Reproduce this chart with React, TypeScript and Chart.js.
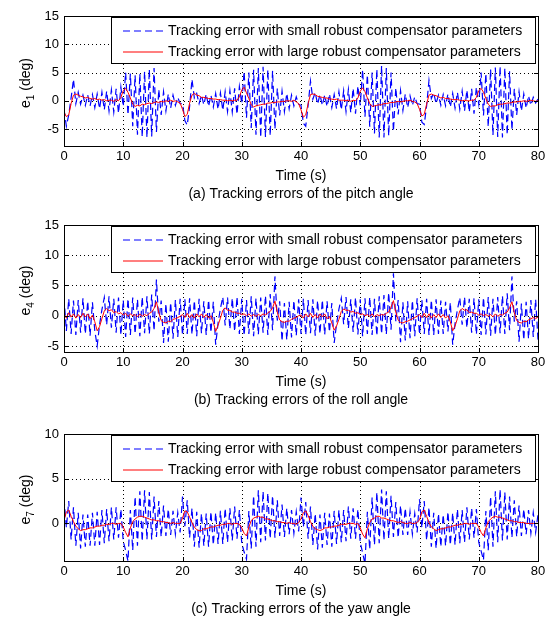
import React, { useEffect, useRef } from "react";
import { Chart, registerables } from "chart.js";

Chart.register(...registerables);

const FONT = '"Liberation Sans", Arial, Helvetica, sans-serif';

// sampling grid of the simulation output (s)
const timeStep = 0.4;
const time: number[] = Array.from({ length: 201 }, (_, i) => Math.round(i * timeStep * 10) / 10);

const xTicks = [0, 10, 20, 30, 40, 50, 60, 70, 80];
const pitchTicks = [-5, 0, 5, 10, 15];
const rollTicks = [-5, 0, 5, 10, 15];
const yawTicks = [0, 5, 10];

const legendLabels = [
  "Tracking error with small robust compensator parameters",
  "Tracking error with large robust compensator parameters",
];
const captions = [
  "(a) Tracking errors of the pitch angle",
  "(b) Tracking errors of the roll angle",
  "(c) Tracking errors of the yaw angle",
];
const xTitle = "Time (s)";

// e1 pitch: small compensator (blue dashed)
const pitchSmall = [
  -1.5, -4.5, -2.5, 0.5, 3.8, -0.5, 1.5, -0.6, 1.0, -0.8, 1.0, -0.9, 1.1, -1.2, 1.2, -1.4, 1.5, -1.6, 1.7, -1.8, 1.9, -2.0, 2.1, -2.2, 2.4,
  -1.0, 5.0, -2.5, 4.8, -4.5, 4.5, -6.0, 4.8, -6.4, 5.2, -6.5, 5.6, -6.3, 5.8, -5.5, 2.0, -2.5, 1.6, -1.8, 1.2, -1.3, 1.0, -0.8, 0.6, -0.5,
  -0.5, -3.5, -4.3, -1.0, 3.8, 0.5, 1.3, -0.5, 1.0, -0.7, 1.2, -1.0, 1.0, -1.1, 1.3, -1.5, 1.4, -1.7, 1.6, -1.9, 1.8, -2.0, 2.2, -2.4, 2.5,
  -0.5, 5.2, -3.0, 5.0, -4.8, 5.5, -6.0, 5.8, -6.5, 6.0, -6.4, 5.5, -6.2, 5.3, -5.0, 2.2, -2.6, 1.7, -1.9, 1.3, -1.4, 1.0, -0.9, 0.7, -0.6,
  -0.8, -4.0, -4.5, -0.8, 3.5, 0.3, 1.5, -0.6, 1.1, -0.8, 1.0, -1.0, 1.2, -1.2, 1.1, -1.4, 1.6, -1.6, 1.8, -1.9, 2.0, -2.1, 2.2, -2.3, 2.6,
  -0.8, 5.5, -2.8, 4.6, -4.6, 5.0, -5.8, 5.6, -6.5, 6.2, -6.5, 5.8, -6.2, 5.0, -5.4, 2.3, -2.4, 1.8, -1.7, 1.2, -1.2, 0.9, -0.8, 0.7, -0.5,
  -0.6, -3.8, -4.2, -0.9, 3.6, 0.4, 1.4, -0.5, 1.0, -0.8, 1.1, -0.9, 1.2, -1.1, 1.3, -1.3, 1.5, -1.5, 1.7, -1.8, 1.9, -2.0, 2.1, -2.3, 2.4,
  -0.6, 5.0, -2.6, 4.8, -4.6, 5.6, -6.1, 5.9, -6.4, 6.1, -6.5, 5.8, -6.0, 5.2, -5.2, 2.1, -2.5, 1.6, -1.8, 1.2, -1.3, 0.9, -0.8, 0.6, -0.4,
  0.3,
];
// e1 pitch: large compensator (red solid)
const pitchLarge = [
  -2.0, -2.8, -2.5, -0.5, 1.0, 1.2, 1.0, 0.8, 0.7, 0.5, 0.6, 0.4, 0.3, 0.4, 0.2, 0.3, 0.1, 0.2, 0.0, 0.1, 0.1, -0.1, 0.2, 0.0, 0.6,
  1.8, 2.2, 1.5, 0.5, -0.6, -1.0, -0.8, -0.9, -0.6, -0.7, -0.5, -0.4, -0.5, -0.3, -0.2, -0.3, -0.1, -0.2, 0.0, -0.1, 0.1, -0.1, 0.0, -0.2, -0.4,
  -1.5, -2.8, -2.4, -0.4, 1.0, 1.3, 1.0, 0.9, 0.6, 0.6, 0.5, 0.4, 0.4, 0.3, 0.3, 0.2, 0.2, 0.1, 0.1, 0.0, 0.1, 0.0, 0.1, 0.1, 0.7,
  1.9, 2.4, 1.4, 0.4, -0.7, -1.1, -0.9, -0.8, -0.7, -0.6, -0.6, -0.4, -0.4, -0.3, -0.3, -0.2, -0.2, -0.1, -0.1, 0.0, 0.0, -0.1, 0.1, -0.2, -0.5,
  -1.6, -2.9, -2.5, -0.5, 1.1, 1.2, 1.1, 0.8, 0.7, 0.6, 0.5, 0.5, 0.3, 0.3, 0.2, 0.3, 0.1, 0.1, 0.1, 0.0, 0.1, -0.1, 0.1, 0.0, 0.5,
  1.7, 2.3, 1.6, 0.5, -0.5, -1.0, -0.9, -0.8, -0.7, -0.7, -0.5, -0.5, -0.4, -0.3, -0.3, -0.2, -0.1, -0.2, -0.1, 0.0, 0.0, 0.1, -0.1, -0.2, -0.5,
  -1.5, -2.7, -2.4, -0.6, 1.0, 1.2, 1.0, 0.9, 0.7, 0.5, 0.6, 0.4, 0.4, 0.3, 0.2, 0.2, 0.2, 0.1, 0.0, 0.1, 0.0, 0.0, 0.1, 0.1, 0.6,
  1.8, 2.2, 1.5, 0.4, -0.6, -1.0, -0.9, -0.9, -0.7, -0.6, -0.6, -0.5, -0.4, -0.4, -0.3, -0.2, -0.2, -0.1, -0.1, 0.0, -0.1, 0.0, 0.1, 0.0, -0.1,
  0.0,
];

// e4 roll: small compensator (blue dashed)
const rollSmall = [
  3.0, -2.5, 2.8, -3.0, 2.5, -3.2, 2.6, -2.8, 2.9, -3.0, 2.4, -3.3, 2.2, -2.5, -5.0, -1.5, 1.0, 3.0, -1.5, 3.2, -2.0, 2.8, -2.8, 3.0, -3.2,
  2.6, -3.5, 2.8, -3.2, 3.0, -3.0, 2.7, -3.4, 3.1, -2.9, 3.2, -3.0, 3.5, -2.5, 6.0, -1.0, 2.5, -4.5, 2.0, -4.3, 2.2, -3.8, 2.6, -3.5, 2.8,
  -3.2, 2.7, -3.0, 2.9, -3.1, 2.5, -3.4, 2.8, -2.9, 2.4, -3.2, 2.6, -2.8, 2.3, -4.8, -1.2, 1.2, 3.1, -1.6, 3.0, -2.2, 2.9, -2.6, 3.1, -3.0,
  2.8, -3.3, 2.6, -3.0, 3.2, -3.4, 2.9, -3.1, 3.0, -2.8, 3.3, -3.2, 3.6, -2.4, 6.5, -0.8, 2.4, -4.2, 2.1, -4.0, 2.3, -3.6, 2.5, -3.3, 2.7,
  -3.0, 2.8, -3.2, 2.6, -2.9, 2.7, -3.3, 2.5, -3.0, 2.6, -3.1, 2.4, -2.7, 2.1, -4.5, -1.4, 1.1, 2.9, -1.4, 3.1, -2.1, 2.7, -2.7, 3.0, -3.1,
  2.7, -3.4, 2.9, -3.0, 3.1, -3.2, 2.8, -3.3, 3.2, -3.0, 3.4, -3.1, 3.8, -2.3, 7.0, -0.9, 2.6, -4.4, 2.2, -4.1, 2.4, -3.7, 2.5, -3.4, 2.9,
  -3.1, 2.6, -3.0, 2.8, -3.2, 2.6, -3.2, 2.7, -3.0, 2.5, -3.0, 2.3, -2.6, 2.2, -4.8, -1.3, 1.0, 3.0, -1.5, 3.1, -2.0, 2.8, -2.8, 2.9, -3.1,
  2.7, -3.2, 3.0, -3.1, 3.1, -3.3, 2.8, -3.2, 3.1, -2.9, 3.3, -3.0, 3.7, -2.4, 6.5, -1.0, 2.4, -4.3, 2.0, -4.0, 2.3, -3.8, 2.6, -3.5, 2.7,
  -4.0,
];
// e4 roll: large compensator (red solid)
const rollLarge = [
  0.3, -0.4, 0.5, -0.2, 0.3, -0.4, 0.2, -0.3, 0.4, -0.2, 0.3, -0.5, 0.1, -1.0, -2.5, -1.8, -0.5, 0.8, 1.2, 0.8, 1.0, 0.5, 0.7, 0.3, 0.5,
  0.1, 0.4, -0.1, 0.3, 0.0, 0.2, -0.2, 0.3, -0.1, 0.2, 0.0, 0.4, 0.6, 1.2, 2.3, 0.5, -0.8, -1.1, -1.2, -0.9, -1.0, -0.6, -0.5, -0.3, -0.1,
  0.2, -0.3, 0.4, -0.3, 0.2, -0.4, 0.3, -0.2, 0.3, -0.3, 0.2, -0.4, 0.0, -1.1, -2.6, -1.6, -0.4, 0.9, 1.3, 0.9, 0.9, 0.6, 0.6, 0.4, 0.4,
  0.2, 0.3, 0.0, 0.3, -0.1, 0.2, -0.1, 0.2, 0.0, 0.3, 0.1, 0.5, 0.7, 1.3, 2.4, 0.6, -0.7, -1.0, -1.1, -0.9, -0.9, -0.6, -0.4, -0.3, 0.0,
  0.1, -0.4, 0.3, -0.2, 0.4, -0.3, 0.2, -0.4, 0.3, -0.2, 0.3, -0.5, -0.1, -1.2, -2.4, -1.7, -0.6, 0.7, 1.1, 0.9, 0.9, 0.6, 0.7, 0.4, 0.5,
  0.2, 0.3, 0.0, 0.2, -0.1, 0.3, -0.2, 0.2, 0.0, 0.2, 0.1, 0.4, 0.6, 1.4, 2.5, 0.6, -0.7, -1.1, -1.2, -1.0, -0.9, -0.7, -0.5, -0.3, -0.1,
  0.2, -0.3, 0.4, -0.3, 0.3, -0.4, 0.2, -0.3, 0.3, -0.3, 0.2, -0.4, 0.0, -1.0, -2.5, -1.7, -0.5, 0.8, 1.2, 0.9, 1.0, 0.5, 0.6, 0.4, 0.4,
  0.1, 0.3, 0.0, 0.2, -0.1, 0.2, -0.2, 0.3, -0.1, 0.2, 0.1, 0.4, 0.6, 1.3, 2.3, 0.5, -0.8, -1.1, -1.2, -0.9, -1.0, -0.7, -0.5, -0.3, -0.5,
  -0.2,
];

// e7 yaw: small compensator (blue dashed)
const yawSmall = [
  2.8, -0.5, 2.5, -1.8, 1.8, -2.5, 1.2, -2.8, 1.0, -2.6, 1.0, -2.5, 1.2, -2.5, 1.3, -2.4, 1.5, -2.2, 1.6, -2.0, 1.8, -1.8, 1.8, -1.6, 1.6,
  -2.0, -3.0, -4.2, 1.5, -3.0, 3.0, -2.5, 3.6, -2.0, 3.7, -1.8, 3.5, -1.8, 3.0, -1.5, 2.5, -1.5, 2.0, -1.4, 1.6, -1.3, 1.4, -1.2, 1.2, -1.0,
  3.0, -0.3, 2.6, -1.6, 1.7, -2.6, 1.3, -2.7, 1.1, -2.5, 1.1, -2.6, 1.3, -2.4, 1.2, -2.3, 1.4, -2.3, 1.7, -2.1, 1.7, -1.9, 1.9, -1.7, 1.5,
  -2.2, -3.2, -4.0, 1.4, -2.8, 3.1, -2.6, 3.7, -2.1, 3.6, -1.9, 3.4, -1.7, 3.1, -1.6, 2.6, -1.4, 2.1, -1.5, 1.7, -1.2, 1.5, -1.1, 1.3, -0.9,
  2.9, -0.4, 2.4, -1.7, 1.9, -2.4, 1.1, -2.9, 1.0, -2.7, 1.2, -2.4, 1.1, -2.6, 1.4, -2.3, 1.5, -2.1, 1.5, -2.0, 1.9, -1.7, 1.7, -1.7, 1.6,
  -2.1, -3.3, -4.5, 1.3, -2.9, 2.9, -2.4, 3.5, -2.2, 3.8, -1.9, 3.6, -1.7, 3.1, -1.5, 2.4, -1.6, 2.0, -1.3, 1.7, -1.3, 1.3, -1.2, 1.1, -1.0,
  2.7, -0.5, 2.5, -1.9, 1.8, -2.6, 1.2, -2.8, 1.1, -2.6, 1.0, -2.5, 1.3, -2.4, 1.2, -2.4, 1.6, -2.2, 1.5, -2.1, 1.8, -1.8, 1.7, -1.6, 1.6,
  -2.1, -3.1, -4.1, 1.4, -3.0, 3.0, -2.6, 3.6, -2.1, 3.8, -1.9, 3.5, -1.8, 3.0, -1.6, 2.6, -1.5, 2.0, -1.4, 1.6, -1.2, 1.5, -1.1, 1.2, -1.0,
  1.0,
];
// e7 yaw: large compensator (red solid)
const yawLarge = [
  0.3, 1.3, 1.5, 0.8, 0.2, -0.3, -0.6, -0.8, -0.7, -0.7, -0.6, -0.5, -0.5, -0.4, -0.3, -0.3, -0.2, -0.2, -0.1, -0.1, 0.0, 0.0, -0.1, 0.0, 0.0,
  -0.4, -1.0, -1.5, -0.5, 0.2, 0.5, 0.7, 0.8, 0.8, 0.7, 0.6, 0.5, 0.4, 0.4, 0.3, 0.3, 0.2, 0.2, 0.1, 0.1, 0.0, 0.1, 0.0, 0.0, 0.0,
  0.6, 1.4, 1.3, 0.7, 0.1, -0.4, -0.7, -0.8, -0.8, -0.6, -0.6, -0.5, -0.4, -0.4, -0.3, -0.2, -0.2, -0.1, -0.1, 0.0, 0.0, -0.1, 0.0, 0.0, -0.1,
  -0.5, -1.1, -1.4, -0.4, 0.3, 0.6, 0.7, 0.8, 0.7, 0.7, 0.5, 0.5, 0.4, 0.3, 0.3, 0.2, 0.2, 0.1, 0.1, 0.0, 0.1, 0.0, 0.0, -0.1, 0.1,
  0.5, 1.2, 1.4, 0.9, 0.2, -0.3, -0.6, -0.7, -0.8, -0.7, -0.5, -0.5, -0.4, -0.4, -0.3, -0.3, -0.2, -0.1, -0.1, -0.1, 0.0, 0.0, 0.0, -0.1, 0.0,
  -0.5, -1.2, -1.6, -0.6, 0.1, 0.5, 0.6, 0.8, 0.8, 0.6, 0.6, 0.5, 0.4, 0.3, 0.3, 0.2, 0.1, 0.2, 0.1, 0.0, 0.0, 0.1, 0.0, 0.0, 0.1,
  0.4, 1.3, 1.5, 0.8, 0.1, -0.4, -0.6, -0.8, -0.7, -0.6, -0.6, -0.5, -0.4, -0.4, -0.3, -0.2, -0.2, -0.1, -0.1, 0.0, 0.0, -0.1, 0.0, 0.0, 0.0,
  -0.4, -1.0, -1.4, -0.5, 0.2, 0.5, 0.7, 0.8, 0.7, 0.7, 0.6, 0.5, 0.4, 0.3, 0.3, 0.2, 0.2, 0.1, 0.1, 0.1, 0.0, 0.0, 0.0, 0.0, 0.0,
  0.0,
];

const BLUE = "#0000ff";
const RED = "#ff0000";

type PanelProps = {
  top: number;
  height: number;
  plotTop: number;
  plotBottom: number;
  yMin: number;
  yMax: number;
  yTicks: number[];
  small: number[];
  large: number[];
  sub: string;
  caption: string;
};

function Panel(p: PanelProps) {
  const ref = useRef<HTMLCanvasElement | null>(null);
  useEffect(() => {
    const canvas = ref.current;
    if (!canvas) return;
    const xAxisH = 20;
    const framePlugin = {
      id: "matlabFrame",
      beforeDatasetsDraw(chart: any) {
        const { ctx, chartArea: a, scales } = chart;
        ctx.save();
        ctx.strokeStyle = "#000";
        ctx.lineWidth = 1;
        ctx.setLineDash([1, 3]);
        xTicks.forEach((v) => {
          const x = Math.round(scales.x.getPixelForValue(v)) + 0.5;
          if (x <= a.left + 1 || x >= a.right - 1) return;
          ctx.beginPath();
          ctx.moveTo(x, a.top);
          ctx.lineTo(x, a.bottom);
          ctx.stroke();
        });
        p.yTicks.forEach((v) => {
          const y = Math.round(scales.y.getPixelForValue(v)) + 0.5;
          if (y <= a.top + 1 || y >= a.bottom - 1) return;
          ctx.beginPath();
          ctx.moveTo(a.left, y);
          ctx.lineTo(a.right, y);
          ctx.stroke();
        });
        ctx.restore();
      },
      afterDatasetsDraw(chart: any) {
        const { ctx, chartArea: a, scales } = chart;
        ctx.save();
        // ticks pointing inward
        ctx.strokeStyle = "#000";
        ctx.lineWidth = 1;
        ctx.setLineDash([]);
        xTicks.forEach((v) => {
          const x = Math.round(scales.x.getPixelForValue(v)) + 0.5;
          ctx.beginPath();
          ctx.moveTo(x, a.bottom);
          ctx.lineTo(x, a.bottom - 4);
          ctx.moveTo(x, a.top);
          ctx.lineTo(x, a.top + 4);
          ctx.stroke();
        });
        p.yTicks.forEach((v) => {
          const y = Math.round(scales.y.getPixelForValue(v)) + 0.5;
          ctx.beginPath();
          ctx.moveTo(a.left, y);
          ctx.lineTo(a.left + 4, y);
          ctx.moveTo(a.right, y);
          ctx.lineTo(a.right - 4, y);
          ctx.stroke();
        });
        // axes box
        ctx.strokeRect(Math.round(a.left) + 0.5, Math.round(a.top) + 0.5, Math.round(a.right - a.left), Math.round(a.bottom - a.top));

        // legend
        const lx = Math.round(a.left) + 47;
        const ly = Math.round(a.top) + 1;
        const lw = Math.round(a.right) - 3 - lx;
        const lh = 46;
        ctx.fillStyle = "#fff";
        ctx.fillRect(lx, ly, lw, lh);
        ctx.strokeStyle = "#000";
        ctx.strokeRect(lx + 0.5, ly + 0.5, lw, lh);
        const rows = [ly + 14, ly + 35];
        const dsets = chart.data.datasets;
        ctx.font = `14px ${FONT}`;
        ctx.textBaseline = "middle";
        ctx.textAlign = "left";
        rows.forEach((ry, i) => {
          const ds = dsets[i];
          ctx.strokeStyle = ds.borderColor;
          ctx.lineWidth = 1.2;
          ctx.setLineDash(ds.borderDash || []);
          ctx.beginPath();
          ctx.moveTo(lx + 12, ry);
          ctx.lineTo(lx + 52, ry);
          ctx.stroke();
          ctx.setLineDash([]);
          ctx.fillStyle = "#000";
          ctx.fillText(legendLabels[i], lx + 57, ry);
        });

        // x title and caption
        const cx = (a.left + a.right) / 2;
        ctx.textAlign = "center";
        ctx.fillStyle = "#000";
        ctx.fillText(xTitle, cx, a.bottom + 30);
        ctx.fillText(p.caption, cx, a.bottom + 48);

        // y title with subscript, rotated
        const cy = (a.top + a.bottom) / 2 + 2;
        ctx.translate(26, cy);
        ctx.rotate(-Math.PI / 2);
        const mainFont = `14px ${FONT}`;
        const subFont = `10px ${FONT}`;
        ctx.font = mainFont;
        const wE = ctx.measureText("e").width;
        const wRest = ctx.measureText(" (deg)").width;
        ctx.font = subFont;
        const wSub = ctx.measureText(p.sub).width;
        const total = wE + wSub + wRest;
        let xx = -total / 2;
        ctx.textAlign = "left";
        ctx.font = mainFont;
        ctx.fillText("e", xx, 0);
        xx += wE;
        ctx.font = subFont;
        ctx.fillText(p.sub, xx, 5);
        xx += wSub;
        ctx.font = mainFont;
        ctx.fillText(" (deg)", xx, 0);
        ctx.restore();
      },
    };

    const chart = new Chart(canvas, {
      type: "line",
      data: {
        datasets: [
          {
            label: legendLabels[0],
            data: time.map((x, i) => ({ x, y: p.small[i] })),
            borderColor: BLUE,
            borderWidth: 1.2,
            borderDash: [7, 4],
            pointRadius: 0,
            tension: 0,
            order: 2,
          },
          {
            label: legendLabels[1],
            data: time.map((x, i) => ({ x, y: p.large[i] })),
            borderColor: RED,
            borderWidth: 1,
            pointRadius: 0,
            tension: 0,
            order: 1,
          },
        ],
      },
      options: {
        animation: false,
        responsive: false,
        maintainAspectRatio: false,
        events: [],
        layout: {
          padding: { left: 0, right: 14, top: p.plotTop, bottom: p.height - p.plotBottom - xAxisH },
        },
        plugins: { legend: { display: false }, title: { display: false }, tooltip: { enabled: false } },
        scales: {
          x: {
            type: "linear",
            min: 0,
            max: 80,
            afterBuildTicks: (s: any) => {
              s.ticks = xTicks.map((v) => ({ value: v }));
            },
            afterFit: (s: any) => {
              s.height = xAxisH;
            },
            grid: { display: false, drawTicks: false },
            border: { display: false },
            ticks: { color: "#000", font: { family: FONT, size: 13 }, padding: 3, maxRotation: 0, autoSkip: false },
          },
          y: {
            type: "linear",
            min: p.yMin,
            max: p.yMax,
            afterBuildTicks: (s: any) => {
              s.ticks = p.yTicks.map((v) => ({ value: v }));
            },
            afterFit: (s: any) => {
              s.width = 64;
            },
            grid: { display: false, drawTicks: false },
            border: { display: false },
            ticks: { color: "#000", font: { family: FONT, size: 13 }, padding: 5, autoSkip: false },
          },
        },
      },
      plugins: [framePlugin],
    } as any);
    return () => chart.destroy();
  }, []);
  return (
    <canvas
      ref={ref}
      width={552}
      height={p.height}
      style={{ position: "absolute", left: 0, top: p.top, width: 552, height: p.height }}
    />
  );
}

export default function App() {
  return (
    <div style={{ position: "absolute", left: 0, top: 0, width: 552, height: 624, background: "#fff" }}>
      <Panel top={0} height={207} plotTop={16} plotBottom={146} yMin={-8} yMax={15} yTicks={pitchTicks}
        small={pitchSmall} large={pitchLarge} sub="1" caption={captions[0]} />
      <Panel top={207} height={207} plotTop={18} plotBottom={145} yMin={-6} yMax={15} yTicks={rollTicks}
        small={rollSmall} large={rollLarge} sub="4" caption={captions[1]} />
      <Panel top={414} height={210} plotTop={20} plotBottom={147} yMin={-4.2} yMax={10} yTicks={yawTicks}
        small={yawSmall} large={yawLarge} sub="7" caption={captions[2]} />
    </div>
  );
}
